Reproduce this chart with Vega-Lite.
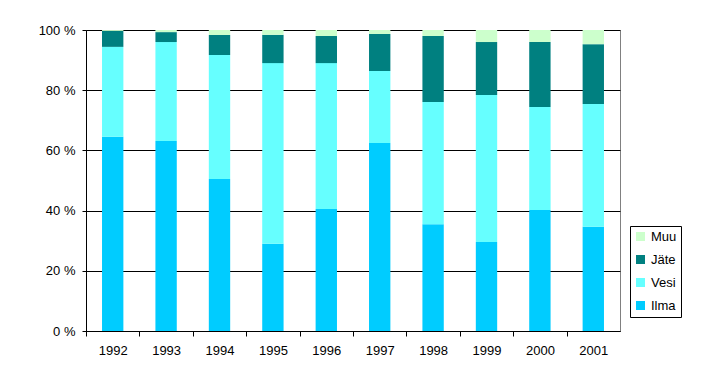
{
  "$schema": "https://vega.github.io/schema/vega-lite/v6.json",
  "autosize": "none",
  "padding": {"left": 86, "top": 30, "right": 86, "bottom": 50},
  "width": 534,
  "height": 301,
  "background": "white",
  "config": {
    "font": "Liberation Sans",
    "view": {"stroke": "#808080"},
    "axis": {"labelFont": "Liberation Sans", "labelFontSize": 13, "labelColor": "black", "domainColor": "black", "tickColor": "black"}
  },
  "data": {
    "values": [
      {"year": "1992", "series": "Ilma", "n": 1, "value": 64.5},
      {"year": "1992", "series": "Vesi", "n": 2, "value": 29.9},
      {"year": "1992", "series": "Jäte", "n": 3, "value": 5.3},
      {"year": "1992", "series": "Muu", "n": 4, "value": 0.3},
      {"year": "1993", "series": "Ilma", "n": 1, "value": 63.1},
      {"year": "1993", "series": "Vesi", "n": 2, "value": 32.9},
      {"year": "1993", "series": "Jäte", "n": 3, "value": 3.3},
      {"year": "1993", "series": "Muu", "n": 4, "value": 0.7},
      {"year": "1994", "series": "Ilma", "n": 1, "value": 50.5},
      {"year": "1994", "series": "Vesi", "n": 2, "value": 41.2},
      {"year": "1994", "series": "Jäte", "n": 3, "value": 6.6},
      {"year": "1994", "series": "Muu", "n": 4, "value": 1.7},
      {"year": "1995", "series": "Ilma", "n": 1, "value": 29.0},
      {"year": "1995", "series": "Vesi", "n": 2, "value": 60.0},
      {"year": "1995", "series": "Jäte", "n": 3, "value": 9.4},
      {"year": "1995", "series": "Muu", "n": 4, "value": 1.6},
      {"year": "1996", "series": "Ilma", "n": 1, "value": 40.5},
      {"year": "1996", "series": "Vesi", "n": 2, "value": 48.5},
      {"year": "1996", "series": "Jäte", "n": 3, "value": 9.0},
      {"year": "1996", "series": "Muu", "n": 4, "value": 2.0},
      {"year": "1997", "series": "Ilma", "n": 1, "value": 62.5},
      {"year": "1997", "series": "Vesi", "n": 2, "value": 23.9},
      {"year": "1997", "series": "Jäte", "n": 3, "value": 12.3},
      {"year": "1997", "series": "Muu", "n": 4, "value": 1.3},
      {"year": "1998", "series": "Ilma", "n": 1, "value": 35.5},
      {"year": "1998", "series": "Vesi", "n": 2, "value": 40.6},
      {"year": "1998", "series": "Jäte", "n": 3, "value": 21.9},
      {"year": "1998", "series": "Muu", "n": 4, "value": 2.0},
      {"year": "1999", "series": "Ilma", "n": 1, "value": 29.6},
      {"year": "1999", "series": "Vesi", "n": 2, "value": 48.8},
      {"year": "1999", "series": "Jäte", "n": 3, "value": 17.6},
      {"year": "1999", "series": "Muu", "n": 4, "value": 4.0},
      {"year": "2000", "series": "Ilma", "n": 1, "value": 40.2},
      {"year": "2000", "series": "Vesi", "n": 2, "value": 34.2},
      {"year": "2000", "series": "Jäte", "n": 3, "value": 21.6},
      {"year": "2000", "series": "Muu", "n": 4, "value": 4.0},
      {"year": "2001", "series": "Ilma", "n": 1, "value": 34.6},
      {"year": "2001", "series": "Vesi", "n": 2, "value": 40.8},
      {"year": "2001", "series": "Jäte", "n": 3, "value": 19.9},
      {"year": "2001", "series": "Muu", "n": 4, "value": 4.7}
    ]
  },
  "mark": {"type": "bar", "width": {"band": 0.4}},
  "encoding": {
    "x": {
      "field": "year",
      "type": "nominal",
      "scale": {"paddingInner": 0, "paddingOuter": 0},
      "axis": {"title": null, "labelAngle": 0, "tickSize": 5, "tickOffset": -26.7, "labelOffset": 26.7, "labelPadding": 8, "grid": false}
    },
    "y": {
      "field": "value",
      "type": "quantitative",
      "stack": "normalize",
      "scale": {"domain": [0, 1], "nice": false},
      "axis": {
        "title": null,
        "values": [0, 0.2, 0.4, 0.6, 0.8, 1],
        "labelExpr": "round(datum.value*100) + ' %'",
        "tickSize": 4,
        "labelPadding": 7,
        "grid": true,
        "gridColor": "black"
      }
    },
    "color": {
      "field": "series",
      "type": "nominal",
      "scale": {"domain": ["Muu", "Jäte", "Vesi", "Ilma"], "range": ["#CCFFCC", "#008080", "#66FFFF", "#00CCFF"]},
      "legend": {
        "title": null,
        "orient": "none",
        "legendX": 544,
        "legendY": 196,
        "strokeColor": "black",
        "padding": 4,
        "symbolType": "square",
        "symbolSize": 81,
        "symbolStrokeWidth": 0,
        "labelFont": "Liberation Sans",
        "labelFontSize": 13,
        "labelColor": "black",
        "labelOffset": 4,
        "rowPadding": 9,
        "fillColor": "white"
      }
    },
    "order": {"field": "n", "type": "quantitative"}
  }
}
